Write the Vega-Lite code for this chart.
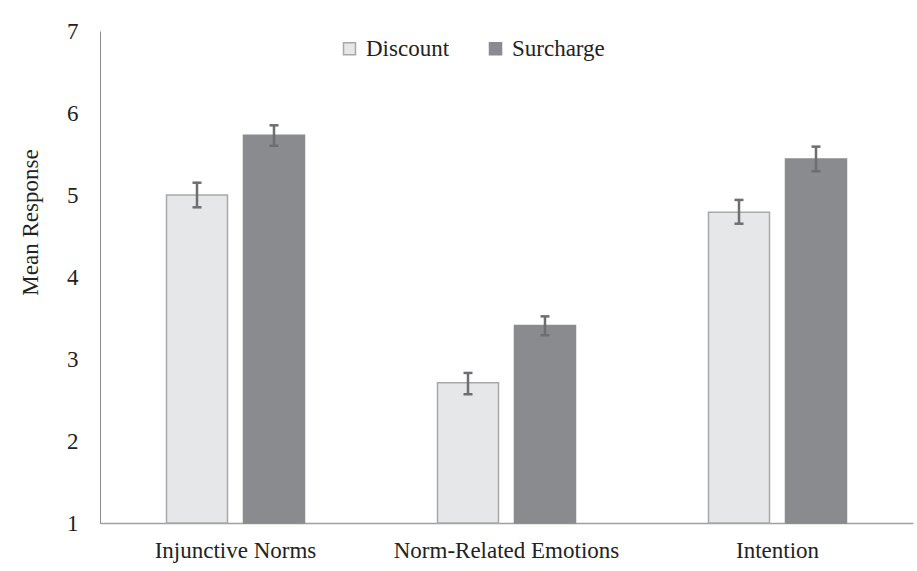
{
  "$schema": "https://vega.github.io/schema/vega-lite/v6.json",
  "width": 813,
  "height": 492,
  "autosize": {"type": "none"},
  "padding": {"left": 100, "top": 31, "right": 4, "bottom": 48},
  "background": "white",
  "config": {
    "view": {"stroke": null},
    "font": "Liberation Serif",
    "style": {
      "guide-label": {"font": "Liberation Serif", "fill": "#222222"},
      "guide-title": {"font": "Liberation Serif", "fill": "#222222"}
    },
    "axis": {"labelFont": "Liberation Serif", "titleFont": "Liberation Serif", "labelColor": "#222222", "titleColor": "#222222"},
    "legend": {"labelFont": "Liberation Serif", "titleFont": "Liberation Serif"}
  },
  "data": {
    "values": [
      {"measure": "Injunctive Norms", "condition": "Discount", "mean": 5.00, "lo": 4.85, "hi": 5.15},
      {"measure": "Injunctive Norms", "condition": "Surcharge", "mean": 5.73, "lo": 5.60, "hi": 5.85},
      {"measure": "Norm-Related Emotions", "condition": "Discount", "mean": 2.71, "lo": 2.57, "hi": 2.83},
      {"measure": "Norm-Related Emotions", "condition": "Surcharge", "mean": 3.41, "lo": 3.29, "hi": 3.52},
      {"measure": "Intention", "condition": "Discount", "mean": 4.79, "lo": 4.65, "hi": 4.94},
      {"measure": "Intention", "condition": "Surcharge", "mean": 5.44, "lo": 5.29, "hi": 5.59}
    ]
  },
  "encoding": {
    "x": {
      "field": "measure", "type": "nominal",
      "sort": ["Injunctive Norms", "Norm-Related Emotions", "Intention"],
      "scale": {"paddingInner": 0.4908, "paddingOuter": 0.2454},
      "axis": {"title": null, "labelAngle": 0, "labelFontSize": 23, "labelFont": "Liberation Serif", "labelLimit": 0, "ticks": false, "labelPadding": 16, "domainColor": "#a0a0a0", "domainWidth": 1.5, "labelColor": "#222222"}
    },
    "xOffset": {
      "field": "condition", "type": "nominal",
      "sort": ["Discount", "Surcharge"],
      "scale": {"paddingInner": 0.2078, "paddingOuter": 0}
    }
  },
  "layer": [
    {
      "mark": {"type": "bar", "strokeWidth": 1.5},
      "encoding": {
        "y": {
          "field": "mean", "type": "quantitative",
          "scale": {"domain": [1, 7], "zero": false, "nice": false},
          "axis": {
            "title": "Mean Response", "values": [1, 2, 3, 4, 5, 6, 7], "format": "d",
            "grid": false, "ticks": false, "labelFontSize": 23, "labelFont": "Liberation Serif", "labelPadding": 22,
            "titleFontSize": 23, "titleFontWeight": "normal", "titleFont": "Liberation Serif",
            "titleX": -70, "titleY": 191, "titleAngle": -90, "titleBaseline": "middle",
            "domainColor": "#8c8c8c", "domainWidth": 1
          }
        },
        "y2": {"datum": 1},
        "fill": {
          "field": "condition", "type": "nominal",
          "scale": {"domain": ["Discount", "Surcharge"], "range": ["#e6e7e9", "#8a8b8f"]},
          "legend": {
            "title": null, "orient": "none", "legendX": 238, "legendY": 6,
            "direction": "horizontal", "symbolType": "square", "symbolSize": 144,
            "labelFontSize": 23, "labelFont": "Liberation Serif", "labelColor": "#222222",
            "labelOffset": 5, "columnPadding": 34, "symbolStrokeWidth": 1.5, "labelLimit": 0
          }
        },
        "stroke": {
          "field": "condition", "type": "nominal",
          "scale": {"domain": ["Discount", "Surcharge"], "range": ["#a8a8a8", "#8a8b8f"]},
          "legend": null
        }
      }
    },
    {
      "mark": {"type": "rule", "color": "#6d6e72", "strokeWidth": 2.5},
      "encoding": {
        "y": {"field": "lo", "type": "quantitative"},
        "y2": {"field": "hi"}
      }
    },
    {
      "mark": {"type": "tick", "color": "#6d6e72", "size": 9, "thickness": 2.5, "opacity": 1},
      "encoding": {"y": {"field": "lo", "type": "quantitative"}}
    },
    {
      "mark": {"type": "tick", "color": "#6d6e72", "size": 9, "thickness": 2.5, "opacity": 1},
      "encoding": {"y": {"field": "hi", "type": "quantitative"}}
    }
  ]
}
